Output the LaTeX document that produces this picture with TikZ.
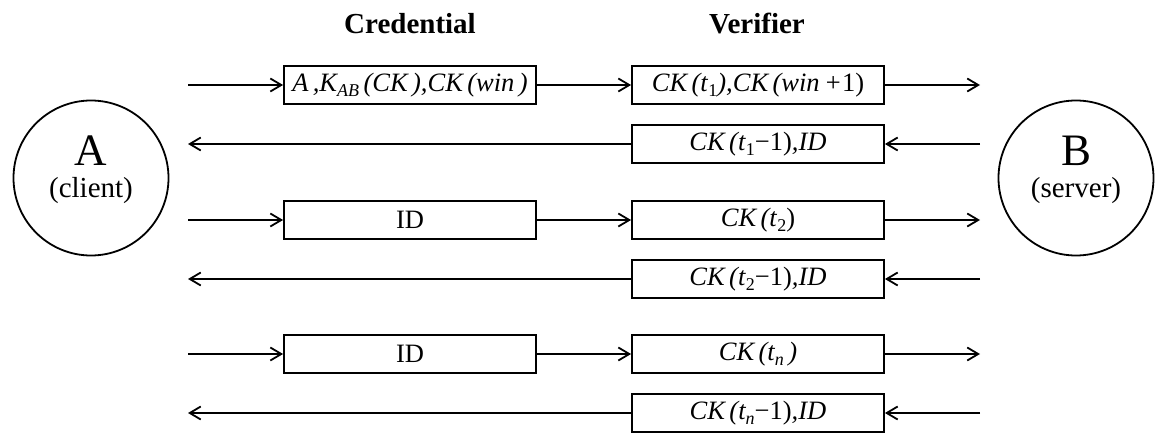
\documentclass[tikz,border=0pt]{standalone}
\usepackage{fontspec}
\setmainfont{Liberation Serif}
\usetikzlibrary{arrows.meta}
\newcommand\lsub[1]{\raisebox{-0.45ex}{\fontsize{18}{18}\selectfont #1}}
\tikzset{
  msgbox/.style={draw, line width=1.8pt, minimum width=252pt, minimum height=38pt, inner sep=0pt,
    font=\fontsize{26.5}{26.5}\selectfont},
  arr/.style={line width=1.8pt, -{Straight Barb[length=11pt,width=13pt]}},
  party/.style={draw, circle, line width=1.8pt, minimum size=155pt, inner sep=0pt},
  head/.style={font=\fontsize{29}{29}\selectfont\bfseries, anchor=base},
  bigletter/.style={font=\fontsize{45}{45}\selectfont, anchor=base},
  role/.style={font=\fontsize{29}{29}\selectfont, anchor=base}
}
\begin{document}
\begin{tikzpicture}[x=1pt, y=-1pt]
\useasboundingbox (0,0) rectangle (1157,433);
% headers
\node[head] (hc) at (410,34) {Credential};
\node[head] (hv) at (757,34) {Verifier};
% parties
\node[party] (A) at (91,178) {};
\node[bigletter] (Al) at (91,166) {A};
\node[role] (Ar) at (91,197) {(client)};
\node[party] (B) at (1076,178) {};
\node[bigletter] (Bl) at (1076,166) {B};
\node[role] (Br) at (1076,197) {(server)};
% row 1
\node[msgbox] (c1) at (410,85) {\textit{A\,,K\lsub{AB}\,(CK\,),CK\,(win\,)}};
\node[msgbox] (v1) at (758,85) {\textit{CK\,(t}\lsub{1}\textit{),CK\,(win\,+}1)};
\coordinate (l1) at (188,85);
\coordinate (r1) at (980,85);
\draw[arr] (l1) -- (c1);
\draw[arr] (c1) -- (v1);
\draw[arr] (v1) -- (r1);
% row 2
\node[msgbox] (v2) at (758,144) {\textit{CK\,(t}\lsub{1}−1)\textit{,ID}};
\coordinate (l2) at (188,144);
\coordinate (r2) at (980,144);
\draw[arr] (r2) -- (v2);
\draw[arr] (v2) -- (l2);
% row 3
\node[msgbox] (c3) at (410,220) {ID};
\node[msgbox] (v3) at (758,220) {\textit{CK\,(t}\lsub{2})};
\coordinate (l3) at (188,220);
\coordinate (r3) at (980,220);
\draw[arr] (l3) -- (c3);
\draw[arr] (c3) -- (v3);
\draw[arr] (v3) -- (r3);
% row 4
\node[msgbox] (v4) at (758,279) {\textit{CK\,(t}\lsub{2}−1)\textit{,ID}};
\coordinate (l4) at (188,279);
\coordinate (r4) at (980,279);
\draw[arr] (r4) -- (v4);
\draw[arr] (v4) -- (l4);
% row 5
\node[msgbox] (c5) at (410,354) {ID};
\node[msgbox] (v5) at (758,354) {\textit{CK\,(t\lsub{n}\,)}};
\coordinate (l5) at (188,354);
\coordinate (r5) at (980,354);
\draw[arr] (l5) -- (c5);
\draw[arr] (c5) -- (v5);
\draw[arr] (v5) -- (r5);
% row 6
\node[msgbox] (v6) at (758,413) {\textit{CK\,(t\lsub{n}}−1)\textit{,ID}};
\coordinate (l6) at (188,413);
\coordinate (r6) at (980,413);
\draw[arr] (r6) -- (v6);
\draw[arr] (v6) -- (l6);
\end{tikzpicture}
\end{document}
